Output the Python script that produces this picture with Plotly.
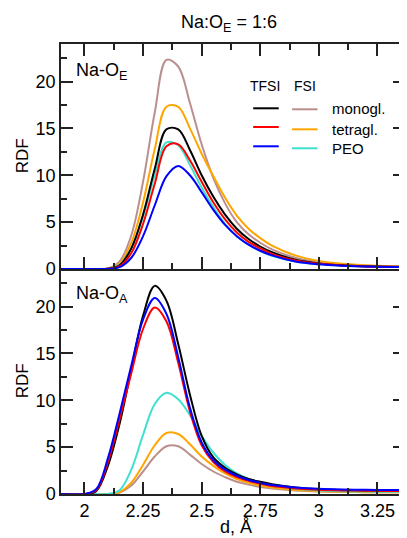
import plotly.graph_objects as go

# ---------------- data ----------------
r = [1.9, 2.0, 2.05, 2.1, 2.15, 2.2, 2.25, 2.3, 2.35, 2.4, 2.45, 2.5, 2.55,
     2.6, 2.65, 2.7, 2.75, 2.8, 2.9, 3.0, 3.1, 3.2, 3.3, 3.4]

# Na-O_E panel
tfsi_monogl_E = [0, 0, 0, 0.03, 0.4, 2.2, 5.8, 10.7, 14.9, 14.9, 12.7, 10.0, 7.7, 5.8, 4.3, 3.2, 2.4, 1.8, 1.0, 0.6, 0.4, 0.3, 0.25, 0.22]
tfsi_tetragl_E = [0, 0, 0, 0.02, 0.3, 1.7, 4.8, 9.1, 13.1, 13.3, 11.6, 9.3, 7.1, 5.3, 3.9, 2.9, 2.2, 1.6, 0.9, 0.55, 0.38, 0.28, 0.23, 0.2]
tfsi_peo_E = [0, 0, 0, 0.01, 0.2, 1.2, 3.5, 6.8, 9.9, 11.0, 10.0, 8.2, 6.3, 4.7, 3.5, 2.6, 1.95, 1.45, 0.8, 0.5, 0.35, 0.27, 0.22, 0.2]
fsi_monogl_E = [0, 0, 0, 0.05, 0.8, 3.6, 9.3, 16.7, 22.3, 21.6, 17.7, 13.3, 9.7, 7.0, 5.0, 3.7, 2.8, 2.1, 1.2, 0.7, 0.45, 0.32, 0.25, 0.22]
fsi_tetragl_E = [0, 0, 0, 0.05, 0.6, 2.8, 7.1, 12.8, 17.3, 17.3, 15.0, 12.3, 9.9, 7.6, 5.7, 4.3, 3.3, 2.5, 1.45, 0.85, 0.55, 0.4, 0.3, 0.25]
fsi_peo_E = [0, 0, 0, 0.03, 0.45, 2.2, 5.6, 10.0, 13.5, 13.2, 11.1, 8.7, 6.6, 4.8, 3.5, 2.6, 1.9, 1.4, 0.8, 0.5, 0.35, 0.27, 0.22, 0.2]

# Na-O_A panel
tfsi_monogl_A = [0, 0, 0.3, 3.0, 7.5, 13.3, 19.0, 22.2, 20.6, 16.0, 10.6, 6.2, 3.9, 2.8, 2.1, 1.6, 1.3, 1.05, 0.7, 0.5, 0.42, 0.38, 0.36, 0.35]
tfsi_tetragl_A = [0, 0, 0.4, 3.4, 8.0, 12.9, 17.6, 19.9, 18.4, 14.0, 8.8, 5.2, 3.4, 2.4, 1.8, 1.4, 1.1, 0.85, 0.6, 0.45, 0.38, 0.35, 0.33, 0.32]
tfsi_peo_A = [0, 0, 0.5, 3.8, 8.6, 13.7, 18.6, 20.9, 19.2, 14.6, 9.2, 5.5, 3.6, 2.6, 1.95, 1.5, 1.2, 0.95, 0.7, 0.55, 0.48, 0.45, 0.42, 0.42]
fsi_monogl_A = [0, 0, 0, 0, 0.15, 0.9, 2.4, 4.0, 5.1, 5.1, 4.2, 3.2, 2.4, 1.8, 1.3, 1.0, 0.75, 0.58, 0.38, 0.27, 0.22, 0.2, 0.18, 0.17]
fsi_tetragl_A = [0, 0, 0, 0, 0.2, 1.2, 3.1, 5.2, 6.5, 6.4, 5.3, 4.0, 3.0, 2.2, 1.6, 1.2, 0.9, 0.7, 0.42, 0.3, 0.24, 0.2, 0.19, 0.18]
fsi_peo_A = [0, 0, 0, 0, 0.4, 2.6, 6.3, 9.6, 10.8, 10.1, 8.4, 6.2, 4.4, 3.1, 2.2, 1.6, 1.2, 0.9, 0.55, 0.38, 0.3, 0.26, 0.24, 0.23]

solvents = ["monogl.", "tetragl.", "PEO"]
tfsi_colors = ["#000000", "#ff0000", "#0000ff"]
fsi_colors = ["#bc8f8f", "#ffa500", "#40e0d0"]

x_ticks = [2, 2.25, 2.5, 2.75, 3, 3.25]
x_tick_text = ["2", "2.25", "2.5", "2.75", "3", "3.25"]
y_ticks = [0, 5, 10, 15, 20]

FONT = "Liberation Sans, Arial, Helvetica, sans-serif"

# ---------------- figure ----------------
OFF = 8  # page body margin of the html page
W, H = 407 - OFF, 538 - OFF
# plot area in screenshot pixels: x 61..407, y 44..494
ML, MR, MT, MB = 61 - OFF, 0, 44 - OFF, 538 - 494
PW, PH = W - ML - MR, H - MT - MB


def px(x):
    return (x - OFF - ML) / PW


def py(y):
    return (H - MB - (y - OFF)) / PH


fig = go.Figure()

panels = [
    ("x", "y", [tfsi_monogl_E, tfsi_tetragl_E, tfsi_peo_E], [fsi_monogl_E, fsi_tetragl_E, fsi_peo_E]),
    ("x2", "y2", [tfsi_monogl_A, tfsi_tetragl_A, tfsi_peo_A], [fsi_monogl_A, fsi_tetragl_A, fsi_peo_A]),
]
for xa, ya, tfsi, fsi in panels:
    for name, c, ys in zip(solvents, fsi_colors, fsi):
        fig.add_trace(go.Scatter(x=r, y=ys, mode="lines", name="FSI " + name,
                                 line=dict(color=c, width=2, shape="spline", smoothing=1.0),
                                 xaxis=xa, yaxis=ya, showlegend=False))
    for name, c, ys in zip(solvents, tfsi_colors, tfsi):
        fig.add_trace(go.Scatter(x=r, y=ys, mode="lines", name="TFSI " + name,
                                 line=dict(color=c, width=2, shape="spline", smoothing=1.0),
                                 xaxis=xa, yaxis=ya, showlegend=False))

LC = "#222222"
xcommon = dict(range=[1.9, 3.3675], tickmode="array", tickvals=x_ticks, ticktext=x_tick_text,
               ticks="inside", ticklen=12, tickwidth=1.5, tickcolor=LC,
               showline=True, linecolor=LC, linewidth=1.5, showgrid=False, zeroline=False,
               minor=dict(ticks="inside", ticklen=6, tickwidth=1.5, tickcolor=LC,
                          tickvals=[2.125, 2.375, 2.625, 2.875, 3.125]),
               tickfont=dict(family=FONT, size=18, color="black"))
ycommon = dict(range=[0, 24], tickmode="array", tickvals=y_ticks,
               ticks="inside", ticklen=12, tickwidth=1.5, tickcolor=LC,
               showline=True, linecolor=LC, linewidth=1.5, showgrid=False, zeroline=False,
               mirror="ticks",
               minor=dict(ticks="inside", ticklen=6, tickwidth=1.5, tickcolor=LC,
                          tickvals=[2.5, 7.5, 12.5, 17.5, 22.5]),
               tickfont=dict(family=FONT, size=18, color="black"))

fig.update_layout(
    width=W, height=H, margin=dict(l=ML, r=MR, t=MT, b=MB),
    paper_bgcolor="white", plot_bgcolor="white",
    xaxis=dict(xcommon, domain=[0, 1], anchor="y", mirror="ticks", showticklabels=False),
    yaxis=dict(ycommon, domain=[0.5, 1], anchor="x"),
    xaxis2=dict(xcommon, domain=[0, 1], anchor="y2", mirror=False),
    yaxis2=dict(ycommon, domain=[0, 0.5], anchor="x2"),
    font=dict(family=FONT, color="black"),
)

ann = []
ann.append(dict(text="Na:O<sub>E</sub> = 1:6", x=px(230), y=py(24), xref="paper", yref="paper",
                xanchor="center", yanchor="middle", showarrow=False, font=dict(size=18)))
ann.append(dict(text="Na-O<sub>E</sub>", x=px(74), y=py(72), xref="paper", yref="paper",
                xanchor="left", yanchor="middle", showarrow=False, font=dict(size=18)))
ann.append(dict(text="Na-O<sub>A</sub>", x=px(74), y=py(294), xref="paper", yref="paper",
                xanchor="left", yanchor="middle", showarrow=False, font=dict(size=18)))
for yc in (156, 381):
    ann.append(dict(text="RDF", x=px(22), y=py(yc), xref="paper", yref="paper", textangle=-90,
                    xanchor="center", yanchor="middle", showarrow=False, font=dict(size=17)))
ann.append(dict(text="d, Å", x=px(237), y=py(527), xref="paper", yref="paper",
                xanchor="center", yanchor="middle", showarrow=False, font=dict(size=18)))
# legend
ann.append(dict(text="TFSI", x=px(266.5), y=py(86), xref="paper", yref="paper",
                xanchor="center", yanchor="middle", showarrow=False, font=dict(size=14)))
ann.append(dict(text="FSI", x=px(306.7), y=py(86), xref="paper", yref="paper",
                xanchor="center", yanchor="middle", showarrow=False, font=dict(size=14)))
shapes = []
tfsi_ly = [108.3, 127, 146.3]
fsi_ly = [109.3, 129.3, 148.3]
lab_y = [108.3, 129, 149]
for i, name in enumerate(solvents):
    shapes.append(dict(type="line", xref="paper", yref="paper", x0=px(254.3), x1=px(280),
                       y0=py(tfsi_ly[i]), y1=py(tfsi_ly[i]), line=dict(color=tfsi_colors[i], width=2)))
    shapes.append(dict(type="line", xref="paper", yref="paper", x0=px(293.3), x1=px(319),
                       y0=py(fsi_ly[i]), y1=py(fsi_ly[i]), line=dict(color=fsi_colors[i], width=2)))
    ann.append(dict(text=name, x=px(331.7), y=py(lab_y[i]), xref="paper", yref="paper",
                    xanchor="left", yanchor="middle", showarrow=False, font=dict(size=15)))

fig.update_layout(annotations=ann, shapes=shapes)
fig.write_html("out.html")
